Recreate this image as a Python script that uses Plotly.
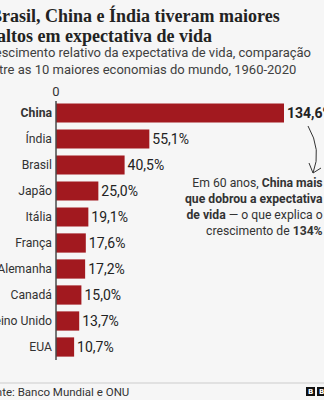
import plotly.graph_objects as go

countries = ["China", "Índia", "Brasil", "Japão", "Itália", "França", "Alemanha", "Canadá", "Reino Unido", "EUA"]
growth = [134.6, 55.1, 40.5, 25.0, 19.1, 17.6, 17.2, 15.0, 13.7, 10.7]

title_lines = ["Brasil, China e Índia tiveram maiores", "saltos em expectativa de vida"]
subtitle_lines = ["Crescimento relativo da expectativa de vida, comparação",
                  "entre as 10 maiores economias do mundo, 1960-2020"]
source = "Fonte: Banco Mundial e ONU"
note = ("Em 60 anos, <b>China mais</b><br><b>que dobrou a expectativa</b><br>"
        "<b>de vida</b> — o que explica o<br>crescimento de <b>134%</b>")

W, H = 324, 400
ML, MR, MT, MB = 56, 0, 100, 40
PW, PH = W - ML - MR, H - MT - MB

def px(x):
    return (x - ML) / PW

def py(y):
    return (H - MB - y) / PH

labels = [f"{v:.1f}".replace(".", ",") + "%" for v in growth]
labels[0] = "<b>" + labels[0] + "</b>"
ticktext = ["<b>China</b>"] + countries[1:]

BAR = "#a2191f"
SANS = "Roboto"

fig = go.Figure(go.Bar(
    x=growth, y=countries, orientation="h",
    marker=dict(color=BAR, line=dict(width=0)),
    text=labels, textposition="outside", cliponaxis=False,
    textfont=dict(family=SANS, size=14, color="#222222"),
    width=0.74,
))

fig.update_layout(
    width=W, height=H,
    margin=dict(l=ML, r=MR, t=MT, b=MB, pad=0, autoexpand=False),
    paper_bgcolor="#f6f6f6", plot_bgcolor="#f6f6f6",
    showlegend=False,
    font=dict(family=SANS, color="#333333"),
    xaxis=dict(range=[0, 134.6 * PW / 228], side="top", tickvals=[0], ticktext=["0"],
               showgrid=False, zeroline=False, showline=False, ticks="",
               tickfont=dict(size=13, color="#333333"), fixedrange=True, automargin=False),
    yaxis=dict(categoryorder="array", categoryarray=countries[::-1],
               tickvals=countries, ticktext=ticktext,
               showgrid=False, zeroline=False, showline=False, ticks="",
               tickfont=dict(size=12.2, color="#333333"), ticklabelstandoff=3,
               fixedrange=True, automargin=False),
)

shapes = [
    dict(type="line", xref="paper", yref="paper", x0=0, x1=0, y0=py(101), y1=py(360),
         line=dict(color="#4a4a4a", width=1.5)),
    dict(type="line", xref="paper", yref="paper", x0=px(0), x1=px(324), y0=py(383), y1=py(383),
         line=dict(color="#cccccc", width=1)),
    dict(type="path", xref="paper", yref="paper",
         path=f"M {px(308)},{py(126)} Q {px(322)},{py(150)} {px(313)},{py(173)}",
         line=dict(color="#333333", width=1)),
    dict(type="path", xref="paper", yref="paper",
         path=f"M {px(309)},{py(163)} L {px(313)},{py(173)} L {px(321)},{py(168)}",
         line=dict(color="#333333", width=1)),
    dict(type="rect", xref="paper", yref="paper", x0=px(306), x1=px(315), y0=py(396), y1=py(387),
         fillcolor="#111111", line=dict(width=0)),
    dict(type="rect", xref="paper", yref="paper", x0=px(317), x1=px(326), y0=py(396), y1=py(387),
         fillcolor="#111111", line=dict(width=0)),
]
fig.update_layout(shapes=shapes)

ann = []
TL = -12
for i, t in enumerate(title_lines):
    ann.append(dict(text="<b>" + t + "</b>", x=px(TL), y=py(15 + 21 * i), xref="paper", yref="paper",
                    xanchor="left", yanchor="middle", showarrow=False,
                    font=dict(family="Liberation Serif", size=18, color="#222222")))
sub_x = [TL - 8, TL - 5]
for i, t in enumerate(subtitle_lines):
    ann.append(dict(text=t, x=px(sub_x[i]), y=py(53 + 16 * i), xref="paper", yref="paper",
                    xanchor="left", yanchor="middle", showarrow=False,
                    font=dict(family=SANS, size=13, color="#404040")))
ann.append(dict(text=source, x=px(-19), y=py(392), xref="paper", yref="paper",
                xanchor="left", yanchor="middle", showarrow=False,
                font=dict(family=SANS, size=11.5, color="#333333")))
for xc in (310.5, 321.5):
    ann.append(dict(text="<b>B</b>", x=px(xc), y=py(391.5), xref="paper", yref="paper",
                    xanchor="center", yanchor="middle", showarrow=False,
                    font=dict(family="DejaVu Sans", size=7, color="#ffffff")))
ann.append(dict(text=note, x=px(325), y=py(174), xref="paper", yref="paper",
                xanchor="right", yanchor="top", align="right", showarrow=False,
                font=dict(family=SANS, size=12.2, color="#333333")))
fig.update_layout(annotations=ann)

fig.write_html("out.html")
